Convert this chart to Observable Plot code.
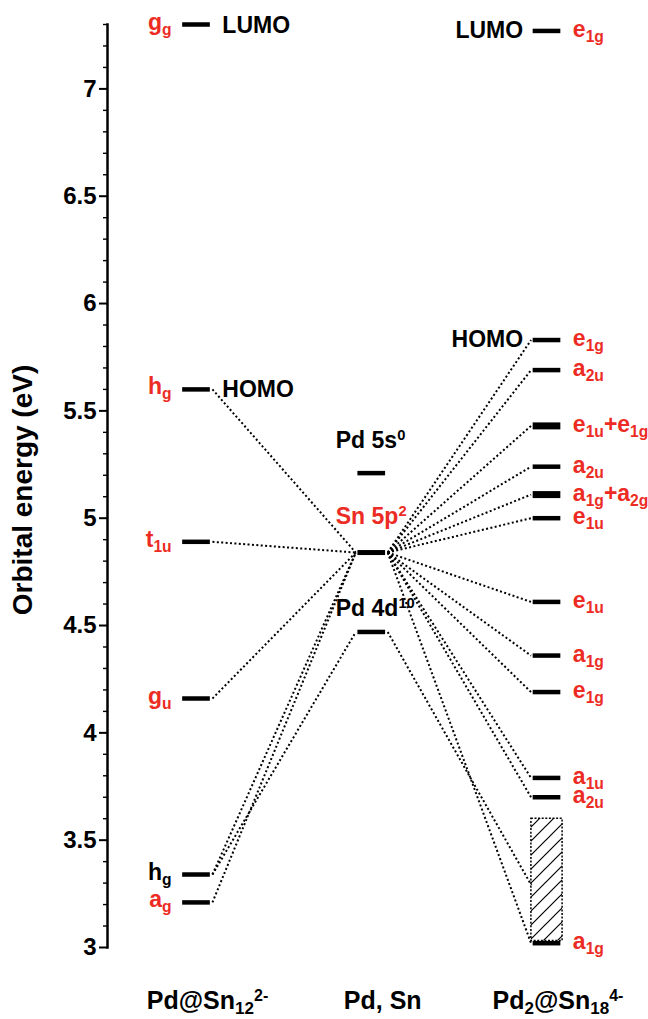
<!DOCTYPE html>
<html>
<head>
<meta charset="utf-8">
<script src="https://cdn.jsdelivr.net/npm/d3@7"></script>
<script src="https://cdn.jsdelivr.net/npm/@observablehq/plot@0.6"></script>
<style>
  html, body { margin: 0; padding: 0; background: #fff; }
  #chart svg { display: block; }
</style>
</head>
<body>
<div id="chart"></div>
<script>
// ---------- DATA ----------
const columns = ["Pd@Sn_{12}^{2-}", "Pd, Sn", "Pd_{2}@Sn_{18}^{4-}"];

// Pd@Sn12 2- levels (eV)
const leftEnergies = [7.30, 5.60, 4.89, 4.16, 3.34, 3.21];
const leftLabels   = ["g_{g}", "h_{g}", "t_{1u}", "g_{u}", "h_{g}", "a_{g}"];
const leftTags     = ["LUMO", "HOMO", "", "", "", ""];
const leftBlackLabels = [4]; // index of the label printed in black

// Pd, Sn atomic levels (eV)
const midEnergies = [5.21, 4.84, 4.47];
const midLabels   = ["Pd 5s^{0}", "Sn 5p^{2}", "Pd 4d^{10}"];
const midRedLabels = [1];

// Pd2@Sn18 4- levels (eV)
const rightEnergies = [7.27, 5.83, 5.69, 5.43, 5.24, 5.11, 5.00, 4.61, 4.36, 4.19, 3.79, 3.70, 3.02];
const rightLabels   = ["e_{1g}", "e_{1g}", "a_{2u}", "e_{1u}+e_{1g}", "a_{2u}", "a_{1g}+a_{2g}",
                       "e_{1u}", "e_{1u}", "a_{1g}", "e_{1g}", "a_{1u}", "a_{2u}", "a_{1g}"];
const rightTags     = ["LUMO", "HOMO", "", "", "", "", "", "", "", "", "", "", ""];

// Band (hatched) of Pd2@Sn18 4- (eV)
const bandRange = [3.03, 3.60];

// Correlation lines (energies)
const leftToSn5p   = [5.60, 4.89, 4.16, 3.34, 3.21];
const leftToPd4d   = [3.34];
const sn5pToRight  = [5.83, 5.69, 5.43, 5.24, 5.11, 5.00, 4.61, 4.36, 4.19, 3.79, 3.70, 3.02];
const pd4dToBand   = [3.29];

const yTicks = [3, 3.5, 4, 4.5, 5, 5.5, 6, 6.5, 7];

// ---------- BUILD ----------
const RED = "#ec2c24";
const FONT = "'Liberation Sans', Arial, Helvetica, sans-serif";
const hw = 0.079;   // half bar width (column units)
const gap = 0.012;  // gap between bar and dotted line
const bw = 0.089;   // half band width

const minorTicks = d3.range(31, 74).filter(i => i % 5 !== 0).map(i => i / 10);

const levels = [
  ...leftEnergies.map((e, i) => ({col: 0, e, label: leftLabels[i], tag: leftTags[i],
      color: leftBlackLabels.includes(i) ? "black" : RED})),
  ...midEnergies.map((e, i) => ({col: 1, e, label: midLabels[i], tag: "",
      color: midRedLabels.includes(i) ? RED : "black"})),
  ...rightEnergies.map((e, i) => ({col: 2, e, label: rightLabels[i], tag: rightTags[i], color: RED}))
];
const sn5p = midEnergies[1], pd4d = midEnergies[2];

const links = [
  ...leftToSn5p.map(e => ({x1: 0 + hw + gap, y1: e, x2: 1 - hw - gap, y2: sn5p})),
  ...leftToPd4d.map(e => ({x1: 0 + hw + gap, y1: e, x2: 1 - hw - gap, y2: pd4d})),
  ...sn5pToRight.map(e => ({x1: 1 + hw + gap, y1: sn5p, x2: 2 - hw - gap, y2: e})),
  ...pd4dToBand.map(e => ({x1: 1 + hw + gap, y1: pd4d, x2: 2 - bw, y2: e}))
];

const midOffsets = [-25, -29, -16];

const textBase = {fontSize: 23, fontWeight: "bold", lineAnchor: "bottom"};

const svg = Plot.plot({
  width: 648,
  height: 1019,
  marginTop: 24,
  marginBottom: 72,
  marginLeft: 107,
  marginRight: 0,
  x: {domain: [0, 2], range: [196, 546.5], axis: null},
  y: {domain: [3, 7.3], label: null},
  color: {type: "identity"},
  style: {fontFamily: FONT, background: "white", color: "black", overflow: "visible"},
  marks: [
    Plot.frame({anchor: "left", stroke: "black", strokeWidth: 2.5}),
    Plot.axisY({ticks: yTicks, tickSize: 8, tickPadding: 3, tickFormat: d => String(d),
                fontSize: 24, fontWeight: "bold", stroke: "black", strokeWidth: 2, fill: "black"}),
    Plot.axisY({ticks: minorTicks, tickSize: 4, tickFormat: () => "", stroke: "black", strokeWidth: 1.4}),
    Plot.text(["Orbital energy (eV)"], {frameAnchor: "left", textAnchor: "middle", dx: -84, dy: 4,
                rotate: -90, fontSize: 28, fontWeight: "bold", fill: "black"}),
    Plot.rect([bandRange], {x1: () => 2 - bw, x2: () => 2 + bw, y1: d => d[0], y2: d => d[1],
                fill: "url(#hatch)", stroke: "black", strokeWidth: 1.5, strokeDasharray: "2 1.6"}),
    Plot.link(links, {x1: "x1", y1: "y1", x2: "x2", y2: "y2", stroke: "black",
                strokeWidth: 2, strokeDasharray: "2 2.4"}),
    Plot.ruleY(levels, {y: "e", x1: d => d.col - hw, x2: d => d.col + hw, stroke: "black",
                strokeWidth: d => d.label.includes("+") ? 7 : (d.col === 1 && d.e === sn5p ? 5 : 4.5)}),
    // left labels
    Plot.text(levels.filter(d => d.col === 0), {...textBase, x: d => d.col - hw, y: "e", text: "label",
                textAnchor: "end", dx: -11, dy: 5, fill: "color"}),
    Plot.text(levels.filter(d => d.col === 0 && d.tag), {...textBase, x: d => d.col + hw, y: "e", text: "tag",
                textAnchor: "start", dx: 12, dy: 8, fill: "black"}),
    // middle labels
    ...levels.filter(d => d.col === 1).map((d, i) =>
      Plot.text([d], {...textBase, x: "col", y: "e", text: "label", textAnchor: "start",
                dx: -36, dy: midOffsets[i], fill: "color"})),
    // right labels
    Plot.text(levels.filter(d => d.col === 2), {...textBase, x: d => d.col + hw, y: "e", text: "label",
                textAnchor: "start", dx: 12, dy: 6, fill: "color"}),
    Plot.text(levels.filter(d => d.col === 2 && d.tag), {...textBase, x: d => d.col - hw, y: "e", text: "tag",
                textAnchor: "end", dx: -10, dy: 7, fill: "black"}),
    // column titles
    Plot.text(columns, {x: (d, i) => i, frameAnchor: "bottom", text: d => d, dy: 61, dx: 11,
                lineAnchor: "bottom", fontSize: 25, fontWeight: "bold", fill: "black"})
  ]
});

// hatch pattern
const defs = d3.select(svg).insert("defs", ":first-child");
const pat = defs.append("pattern").attr("id", "hatch").attr("patternUnits", "userSpaceOnUse")
  .attr("width", 14).attr("height", 14);
pat.append("rect").attr("width", 14).attr("height", 14).attr("fill", "white");
pat.append("path").attr("d", "M-3.5,3.5 L3.5,-3.5 M0,14 L14,0 M10.5,17.5 L17.5,10.5")
  .attr("stroke", "black").attr("stroke-width", 1.2);

// subscripts / superscripts
d3.select(svg).selectAll("text").each(function () {
  const t = this.textContent;
  if (!/[_^]\{/.test(t)) return;
  const el = d3.select(this);
  el.text(null);
  const parts = t.split(/([_^]\{[^}]*\})/).filter(s => s.length);
  let shift = 0;
  for (const p of parts) {
    let target = 0, content = p, size = null;
    if (p.startsWith("_{")) { target = 5; content = p.slice(2, -1); size = "0.68em"; }
    else if (p.startsWith("^{")) { target = -8; content = p.slice(2, -1); size = "0.64em"; }
    const ts = el.append("tspan").attr("dy", target - shift).text(content);
    if (size) ts.attr("font-size", size);
    shift = target;
  }
});

document.getElementById("chart").appendChild(svg);
</script>
</body>
</html>
